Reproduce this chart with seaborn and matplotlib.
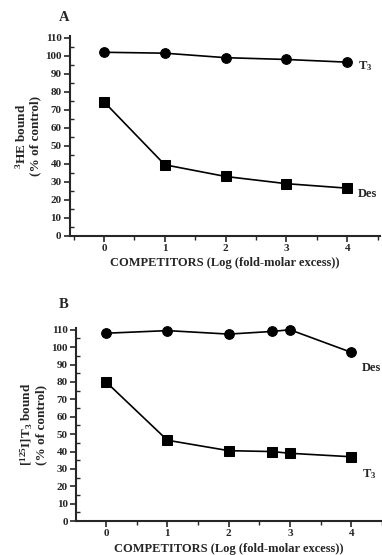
import numpy as np
import matplotlib
matplotlib.use('Agg')
import matplotlib.pyplot as plt
import seaborn as sns
import pandas as pd
from matplotlib.ticker import MultipleLocator

# Panel A: 3HE binding
a_x = [0, 1, 2, 3, 4]
a_t3 = [102, 101.5, 99, 98, 96.5]
a_des = [74.5, 39.5, 33, 29, 26.5]

# Panel B: [125I]T3 binding
b_x = [0, 1, 2, 2.7, 3, 4]
b_des = [108, 109.5, 107.5, 109, 110, 97]
b_t3 = [80, 46.5, 40.5, 40, 39, 37]

yticks = list(range(0, 111, 10))
xticks = [0, 1, 2, 3, 4]

sns.set_style('ticks')
plt.rcParams['font.family'] = ['Liberation Serif', 'DejaVu Serif']
plt.rcParams['font.weight'] = 'bold'
plt.rcParams['mathtext.fontset'] = 'custom'
plt.rcParams['mathtext.rm'] = 'Liberation Serif:bold'
plt.rcParams['mathtext.it'] = 'Liberation Serif:bold'
plt.rcParams['mathtext.bf'] = 'Liberation Serif:bold'

fig = plt.figure(figsize=(3.82, 5.55), dpi=100)
axA = fig.add_axes([0.183, 0.575, 0.812, 0.36])
axB = fig.add_axes([0.199, 0.061, 0.801, 0.348])


def draw(ax, x, circ, sq, xlim, ylabel, circ_lab, sq_lab, circ_off, sq_off):
    df = pd.DataFrame({'x': x, 'circ': circ, 'sq': sq})
    sns.lineplot(data=df, x='x', y='circ', ax=ax, color='black', lw=1.2,
                 marker='o', markersize=7, markeredgecolor='black', clip_on=False)
    sns.lineplot(data=df, x='x', y='sq', ax=ax, color='black', lw=1.2,
                 marker='s', markersize=6.5, markeredgecolor='black', clip_on=False)
    ax.set_xlim(*xlim)
    ax.set_ylim(0, 111)
    ax.set_xticks(xticks)
    ax.set_yticks(yticks)
    ax.xaxis.set_minor_locator(MultipleLocator(0.5))
    ax.yaxis.set_minor_locator(MultipleLocator(5))
    ax.tick_params(axis='both', which='major', direction='out', length=4,
                   width=1.2, labelsize=8, pad=2)
    ax.tick_params(axis='y', which='minor', direction='in', length=3, width=1)
    ax.tick_params(axis='x', which='minor', direction='out', length=3, width=1)
    for lab in ax.get_xticklabels() + ax.get_yticklabels():
        lab.set_fontweight('bold')
    sns.despine(ax=ax)
    for s in ['left', 'bottom']:
        ax.spines[s].set_linewidth(1.5)
    ax.set_xlabel('COMPETITORS (Log (fold-molar excess))', fontsize=9,
                  fontweight='bold', labelpad=3)
    ax.set_ylabel(ylabel, fontsize=9.5, fontweight='bold', labelpad=3,
                  linespacing=1.0)
    ax.text(x[-1] + 0.17, circ[-1] + circ_off, circ_lab, fontsize=9,
            fontweight='bold', va='center')
    ax.text(x[-1] + 0.17, sq[-1] + sq_off, sq_lab, fontsize=9,
            fontweight='bold', va='center')


draw(axA, a_x, a_t3, a_des, (-0.56, 4.54),
     '$^{3}$HE bound\n(% of control)', 'T$_3$', 'Des', -2, -3)
draw(axB, b_x, b_des, b_t3, (-0.49, 4.5),
     '[$^{125}$I]T$_3$ bound\n(% of control)', 'Des', 'T$_3$', -9, -10)

fig.text(0.155, 0.968, 'A', fontsize=10.5, fontweight='bold', va='center')
fig.text(0.155, 0.452, 'B', fontsize=10.5, fontweight='bold', va='center')

fig.savefig('out.png', dpi=100)
